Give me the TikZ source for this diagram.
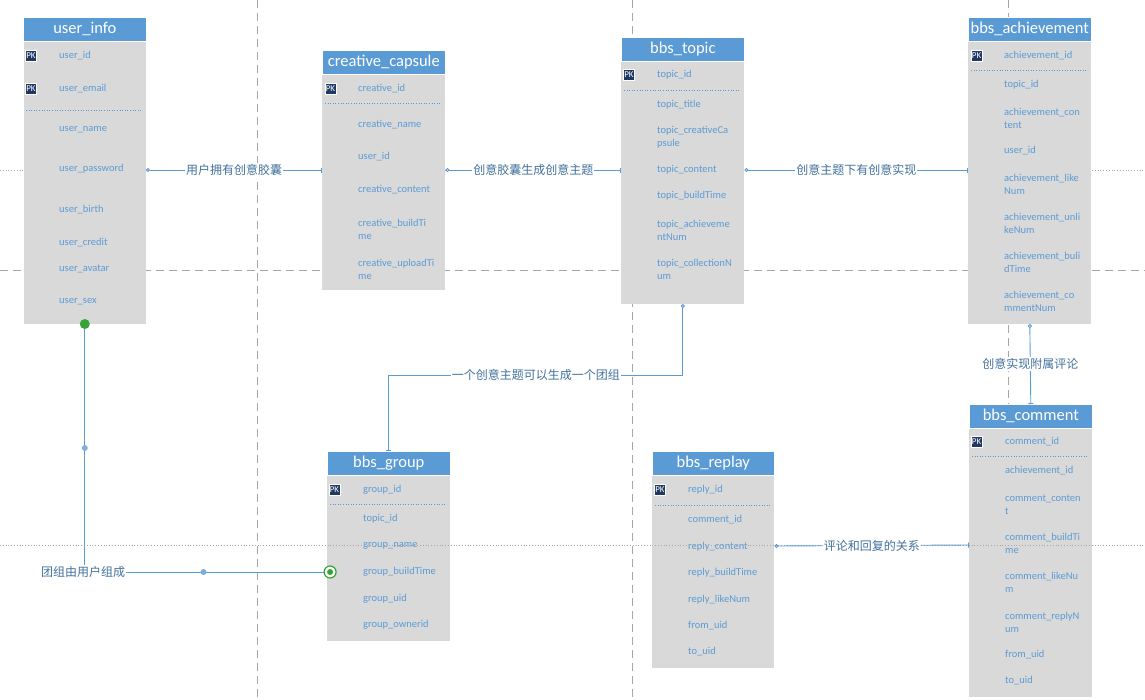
\documentclass[tikz,border=0pt]{standalone}
\usepackage{fontspec}
\setmainfont{Carlito}
\newfontfamily\cjk{Noto Sans CJK SC}
\usepackage{tikz}
\usetikzlibrary{arrows.meta, positioning}

\definecolor{hdrblue}{HTML}{5B9BD5}
\definecolor{bodygray}{HTML}{D9D9D9}
\definecolor{fldblue}{HTML}{5B9BD5}
\definecolor{lblblue}{HTML}{41719C}
\definecolor{pknavy}{HTML}{203864}
\definecolor{gridgray}{HTML}{A6A6A6}
\definecolor{dotgreen}{HTML}{36A336}
\definecolor{wayblue}{HTML}{7EAEDC}

\begin{document}
\begin{tikzpicture}[x=1pt, y=-1pt,
    hdr/.style={fill=hdrblue, draw=white, line width=0.6pt, text=white, anchor=north west,
        minimum width=123, minimum height=24, inner sep=0, font=\fontsize{16.5}{18}\selectfont},
    tbl/.style={fill=bodygray, minimum width=123, inner sep=0, below=0pt of #1},
    fld/.style={anchor=west, inner sep=0, align=left, text=fldblue,
        font=\fontsize{10.5}{13}\selectfont},
    pk/.style={fill=pknavy, draw=white, line width=0.5pt, text=white, inner sep=0,
        minimum width=11, minimum height=11, font=\fontsize{9}{9}\selectfont},
    sep/.style={draw=hdrblue, dotted, line width=0.6pt},
    gridd/.style={draw=gridgray, line width=0.8pt, dash pattern=on 8pt off 5pt},
    gridp/.style={draw=gridgray, line width=0.8pt, dotted},
    link/.style={draw=hdrblue, line width=0.9pt,
        {Circle[open, length=4pt, width=4pt]}-{Bar[width=5pt]}},
    plain/.style={draw=hdrblue, line width=0.9pt},
    lbl/.style={fill=white, inner sep=1pt, text=lblblue, font=\cjk\fontsize{12}{14}\selectfont},
    gdot/.style={circle, fill=dotgreen, inner sep=0, minimum size=10},
    wdot/.style={circle, fill=wayblue, inner sep=0, minimum size=6},
    gtarget/.style={circle, draw=dotgreen, line width=1.2pt, fill=white, inner sep=0, minimum size=12}]
    \useasboundingbox (0,0) rectangle (1145,699);

    % grid behind
    \draw[gridd] (257,0) -- (257,699) (632,0) -- (632,699) (1008,0) -- (1008,699)
        (0,270) -- (1145,270);
    \draw[gridp] (0,170) -- (1145,170);

    % user_info
    \node[hdr] (uihead) at (23,17) {user\_info};
    \node[tbl=uihead, minimum width=122, minimum height=282] (ui) {};
    \node[pk] (ui-pk1) at (31,56) {PK};
    \node[pk] (ui-pk2) at (31,89) {PK};
    \draw[sep] (26,110) -- (142,110);
    \foreach \fy/\ft [count=\i] in {56/user\_id, 89/user\_email, 130/user\_name,
        169/user\_password, 210/user\_birth, 243/user\_credit, 269/user\_avatar, 302/user\_sex}
        \node[fld] (ui-f\i) at (59,\fy) {\ft};

    % creative_capsule
    \node[hdr] (cchead) at (322,50) {creative\_capsule};
    \node[tbl=cchead, minimum height=215] (cc) {};
    \node[pk] (cc-pk1) at (330.5,89) {PK};
    \draw[sep] (325,103) -- (442,103);
    \foreach \fy/\ft [count=\i] in {89/creative\_id, 125/creative\_name, 157/user\_id,
        190/creative\_content, 229.5/{creative\_buildTi\\me}, 269/{creative\_uploadTi\\me}}
        \node[fld] (cc-f\i) at (358,\fy) {\ft};

    % bbs_topic
    \node[hdr] (topichead) at (621,37) {bbs\_topic};
    \node[tbl=topichead, minimum height=242] (topic) {};
    \node[pk] (topic-pk1) at (629,75) {PK};
    \draw[sep] (624,90) -- (741,90);
    \foreach \fy/\ft [count=\i] in {75/topic\_id, 104.5/topic\_title,
        137.5/{topic\_creativeCa\\psule}, 170/topic\_content, 196/topic\_buildTime,
        230/{topic\_achieveme\\ntNum}, 269.5/{topic\_collectionN\\um}}
        \node[fld] (topic-f\i) at (657,\fy) {\ft};

    % bbs_achievement
    \node[hdr] (achhead) at (968,17) {bbs\_achievement};
    \node[tbl=achhead, minimum height=282] (ach) {};
    \node[pk] (ach-pk1) at (976.5,56) {PK};
    \draw[sep] (971,70) -- (1088,70);
    \foreach \fy/\ft [count=\i] in {56/achievement\_id, 85/topic\_id,
        118.5/{achievement\_con\\tent}, 151/user\_id, 184/{achievement\_like\\Num},
        223.5/{achievement\_unli\\keNum}, 262.5/{achievement\_buli\\dTime},
        301.5/{achievement\_co\\mmentNum}}
        \node[fld] (ach-f\i) at (1004,\fy) {\ft};

    % bbs_comment
    \node[hdr] (cmthead) at (969,404) {bbs\_comment};
    \node[tbl=cmthead, minimum height=268] (cmt) {};
    \node[pk] (cmt-pk1) at (976.5,442) {PK};
    \draw[sep] (972,456) -- (1089,456);
    \foreach \fy/\ft [count=\i] in {442/comment\_id, 471/achievement\_id,
        504.5/{comment\_conten\\t}, 543.5/{comment\_buildTi\\me}, 582.5/{comment\_likeNu\\m},
        622.5/{comment\_replyN\\um}, 655/from\_uid, 681/to\_uid}
        \node[fld] (cmt-f\i) at (1005,\fy) {\ft};

    % bbs_replay
    \node[hdr, minimum width=122] (rephead) at (652,451) {bbs\_replay};
    \node[tbl=rephead, minimum width=122, minimum height=192] (rep) {};
    \node[pk] (rep-pk1) at (660,490) {PK};
    \draw[sep] (655,505) -- (771,505);
    \foreach \fy/\ft [count=\i] in {490/reply\_id, 520/comment\_id, 547/reply\_content,
        573/reply\_buildTime, 600/reply\_likeNum, 626/from\_uid, 652/to\_uid}
        \node[fld] (rep-f\i) at (688,\fy) {\ft};

    % bbs_group
    \node[hdr] (grphead) at (327,451) {bbs\_group};
    \node[tbl=grphead, minimum height=165] (grp) {};
    \node[pk] (grp-pk1) at (334.5,490) {PK};
    \draw[sep] (330,504) -- (447,504);
    \foreach \fy/\ft [count=\i] in {490/group\_id, 519/topic\_id, 546/group\_name,
        572/group\_buildTime, 599/group\_uid, 625/group\_ownerid}
        \node[fld] (grp-f\i) at (363,\fy) {\ft};

    % grid in front
    \draw[gridp] (0,545) -- (1145,545);

    % relations
    \draw[link] (ui.east |- 0,170) -- node[lbl] (lb1) {用户拥有创意胶囊} (cc.west |- 0,170);
    \draw[link] (cc.east |- 0,170) -- node[lbl] (lb2) {创意胶囊生成创意主题} (topic.west |- 0,170);
    \draw[link] (topic.east |- 0,170) -- node[lbl] (lb3) {创意主题下有创意实现} (ach.west |- 0,170);
    \draw[link] (topic.south) -- (topic.south |- 0,375)
        -| node[pos=0.25, lbl] (lb4) {一个创意主题可以生成一个团组} (grphead.north);
    \draw[link] (ach.south) -- node[lbl] (lb5) {创意实现附属评论} (cmthead.north);
    \draw[link] (rep.east |- 0,546) -- node[lbl] (lb6) {评论和回复的关系} (cmt.west |- 0,545);

    \draw[plain] (ui.south) |- node[pos=0.25, wdot] (w1) {}
        node[pos=0.745, wdot] (w2) {} (grp.west |- 0,572);
    \node[lbl] (lb7) at (83,572) {团组由用户组成};
    \node[gdot] (own) at (ui.south) {};
    \node[gtarget] (tgt) at ([xshift=3]grp.west |- 0,572) {};
    \node[gdot, minimum size=6] (tgtin) at (tgt) {};
\end{tikzpicture}
\end{document}
